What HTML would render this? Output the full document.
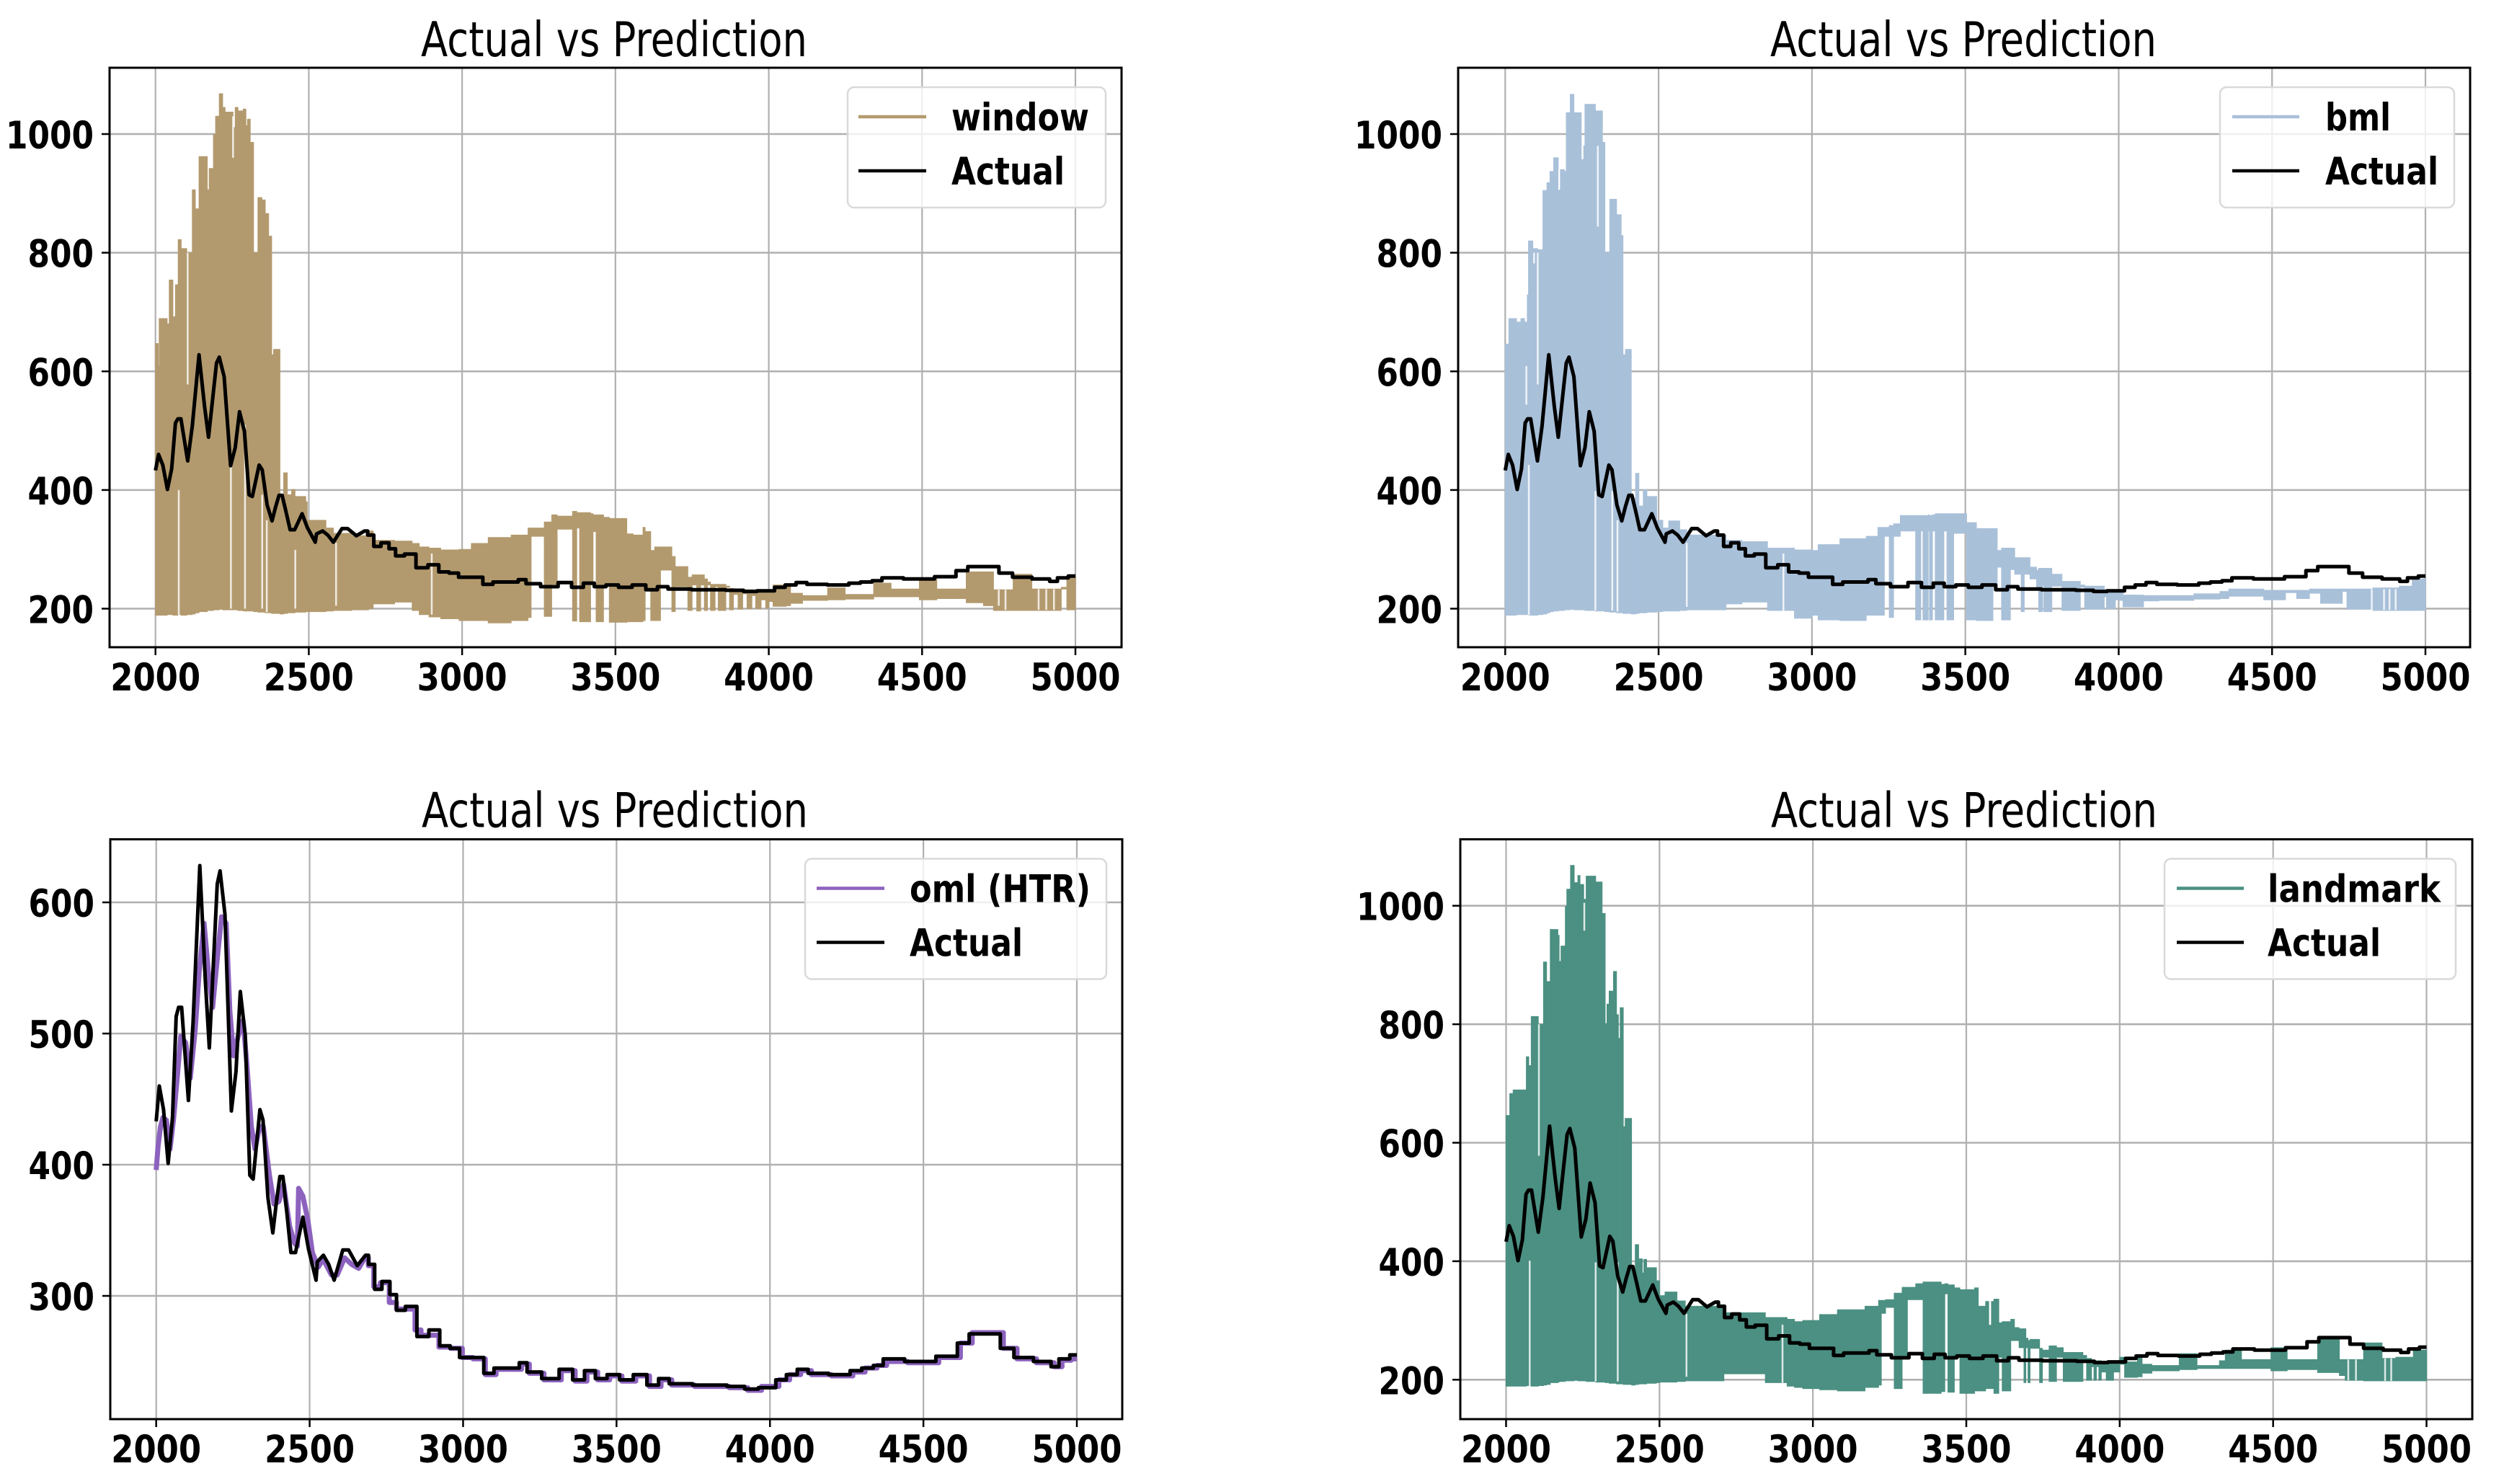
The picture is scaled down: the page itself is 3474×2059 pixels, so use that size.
<!DOCTYPE html>
<html lang="en">
<head>
<meta charset="utf-8">
<title>Actual vs Prediction</title>
<style>
html,body{margin:0;padding:0;background:#fff;width:3474px;height:2059px;overflow:hidden}
svg{display:block;font-family:"DejaVu Sans","Liberation Sans",sans-serif}
</style>
</head>
<body>
<svg id="figure" xmlns="http://www.w3.org/2000/svg" width="3474" height="2059" viewBox="0 0 3474 2059"></svg>
<script>
const xTicks = [2000, 2500, 3000, 3500, 4000, 4500, 5000];
const yTicksWide = [200, 400, 600, 800, 1000];
const yTicksNarrow = [300, 400, 500, 600];

const actualX = [2000,2010,2024,2039,2053,2065,2073,2083,2105,2120,2142,2160,2173,2199,2208,2224,2245,2260,2274,2290,2305,2316,2338,2348,2364,2380,2392,2403,2413,2425,2439,2454,2478,2496,2521,2525,2545,2562,2580,2608,2627,2655,2682,2702,2722,2749,2774,2792,2832,2867,2910,2938,2977,3000,3051,3084,3117,3173,3193,3224,3288,3338,3376,3415,3447,3491,3529,3580,3618,3656,3687,3809,3911,3924,4000,4038,4069,4109,4140,4242,4280,4318,4356,4382,4496,4585,4636,4662,4725,4776,4814,4903,4929,4954,5000];
const actualValues = [433,460,442,401,436,513,520,520,449,508,628,541,489,614,624,591,441,471,532,499,392,389,442,434,375,348,372,391,391,365,333,333,360,336,312,326,331,324,312,335,335,323,331,324,305,311,301,289,292,269,274,262,260,253,253,241,245,245,249,242,237,244,236,243,237,240,236,240,232,237,233,232,231,229,230,236,240,244,241,240,243,245,247,252,250,254,264,271,271,260,253,250,246,252,255];

const omlX = [2000,2006,2014,2022,2033,2045,2057,2069,2080,2096,2111,2127,2140,2156,2170,2184,2201,2213,2228,2240,2252,2267,2283,2295,2310,2322,2337,2349,2369,2384,2400,2415,2435,2451,2460,2464,2478,2494,2509,2528,2544,2571,2590,2614,2637,2660,2680,2703,2715,2746,2773,2793,2832,2855,2871,2910,2933,2985,3010,3055,3090,3125,3180,3200,3232,3295,3345,3385,3422,3455,3500,3535,3590,3625,3665,3695,3815,3920,3935,4010,4048,4080,4120,4150,4250,4290,4330,4368,4392,4505,4595,4646,4672,4735,4786,4824,4913,4939,4964,5000];
const omlValues = [396,414,429,436,434,412,436,468,498,493,466,503,547,584,547,520,562,589,584,517,483,498,510,478,429,412,429,429,392,370,372,385,353,340,338,382,376,358,333,322,328,316,316,329,324,321,329,323,307,310,295,290,290,274,270,270,261,260,253,252,240,244,244,248,241,236,243,235,242,236,239,235,239,231,236,232,231,230,228,231,236,240,243,240,239,242,245,247,250,249,253,264,272,272,260,252,249,246,251,252];

const windowStart = [
2000,2009,2012,2038,2045,2057,2065,2074,2084,2102,
2120,2130,2142,2169,2175,2189,2196,2208,2219,2227,
2253,2260,2269,2286,2295,2300,2309,2320,2334,2347,
2358,2369,2379,2385,2406,2418,2430,2444,2455,2490,
2495,2556,2580,2640,2695,2710,2780,2837,2860,2892,
2930,2990,3030,3085,3160,3215,3225,3268,3292,3310,
3360,3374,3383,3419,3427,3437,3461,3480,3537,3558,
3590,3597,3615,3628,3647,3684,3695,3736,3750,3765,
3778,3790,3800,3810,3825,3835,3860,3872,3885,3900,
3915,3929,3945,3957,3975,3990,4000,4014,4057,4071,
4110,4192,4249,4342,4399,4491,4548,4644,4700,4733,
4797,4858,4954,4972];
const windowHigh = [
647,609,689,680,754,692,746,822,807,800,
906,874,962,906,942,999,1030,1068,1045,1037,
1011,1045,1039,1042,1014,1025,986,800,893,889,
866,828,628,637,386,429,392,401,389,380,
349,336,327,323,331,315,314,310,304,302,
299,300,310,320,324,336,336,346,358,356,
364,362,362,360,358,358,354,352,326,324,
337,330,298,304,304,288,271,253,257,257,
257,250,245,241,241,241,238,234,232,233,
232,232,232,230,230,230,232,240,238,226,
222,235,224,243,233,250,233,262,262,232,
258,233,236,255];
const windowLow = [
189,189,189,190,190,189,189,190,189,190,
191,193,195,197,197,198,198,199,198,198,
198,198,197,196,196,196,196,195,194,194,
193,193,192,192,191,192,193,193,194,195,
195,196,197,198,200,208,211,197,190,186,
183,180,180,176,180,185,322,187,241,334,
179,336,178,240,330,178,240,177,178,178,
180,233,180,180,265,195,237,197,240,196,
240,197,240,197,237,197,236,198,224,199,
225,200,222,200,215,201,212,204,205,209,
214,215,216,220,220,215,217,210,205,197,
197,197,233,198];
const windowSlitX = [2076,2105,2246,2253,2292,2348,2363,2456,2589,2901,4750,4772,4880,4905,4930];
const windowSlitHigh = [400,800,441,1030,510,392,349,299,311,293,232,232,233,233,233];
const windowSlitLow = [189,578,200,960,200,200,194,200,205,190,205,198,198,198,198];

const bmlStart = [
2000,2012,2037,2051,2063,2072,2076,2090,2106,2123,
2136,2146,2158,2173,2179,2193,2199,2212,2224,2248,
2256,2260,2294,2317,2325,2341,2363,2378,2384,2392,
2411,2425,2436,2450,2462,2494,2514,2533,2569,2592,
2720,2772,2855,2943,3000,3020,3091,3177,3215,3236,
3252,3266,3288,3338,3355,3362,3379,3383,3393,3402,
3430,3440,3462,3504,3536,3590,3604,3618,3647,3661,
3682,3692,3711,3732,3739,3752,3756,3782,3815,3875,
3889,3953,3960,3989,4000,4014,4081,4131,4245,4330,
4359,4473,4544,4580,4622,4658,4729,4744,4829,4915,4957];
const bmlHigh = [
646,689,683,689,683,729,820,807,805,905,
918,937,960,906,940,937,1036,1067,1036,957,
980,1050,1039,986,801,890,864,829,628,637,
386,428,373,401,389,349,336,348,333,324,
315,313,302,299,298,308,318,322,337,337,
340,343,357,357,357,357,358,357,358,360,
360,360,360,345,335,335,298,302,302,286,
286,286,270,265,268,268,268,258,246,240,
238,232,230,230,232,223,222,222,225,229,
233,231,231,231,233,233,233,233,235,238,250];
const bmlLow = [
189,189,190,190,190,190,189,189,190,191,
193,195,196,197,197,198,198,199,198,198,
198,197,196,196,195,194,193,193,192,192,
191,192,193,193,194,195,196,196,197,198,
208,211,197,184,189,181,180,189,189,322,
185,322,331,181,331,181,331,181,331,181,
331,181,327,181,180,237,270,181,266,258,
195,258,250,235,195,240,195,238,197,236,
199,220,200,215,214,203,213,214,216,217,
221,215,227,217,226,209,229,199,197,197,197];
const bmlSlitX = [2069,2077,2094,2106,2176,2294,2302,2349,2366,2592,2907,4825,4865,4883,4903];
const bmlSlitHigh = [609,442,800,800,940,398,980,398,349,311,293,233,233,233,233];
const bmlSlitLow = [544,189,782,578,906,197,844,197,195,203,190,198,198,198,198];

const landmarkStart = [
2000,2012,2023,2066,2074,2082,2105,2122,2132,2144,
2169,2173,2179,2193,2198,2210,2222,2234,2241,2253,
2261,2292,2313,2323,2329,2336,2350,2360,2366,2372,
2382,2388,2409,2421,2432,2444,2449,2458,2490,2500,
2518,2557,2584,2710,2845,2916,2940,2967,3022,3080,
3170,3214,3223,3237,3265,3291,3308,3335,3359,3418,
3430,3440,3461,3479,3527,3539,3563,3573,3582,3590,
3606,3617,3645,3657,3672,3688,3694,3701,3708,3739,
3748,3770,3794,3816,3880,3892,3908,3916,3924,3932,
3940,3956,3980,4000,4016,4058,4073,4105,4194,4252,
4325,4344,4397,4493,4546,4645,4716,4735,4795,4855,
4871,4900,4957];
const landmarkHigh = [
646,683,689,745,730,813,800,905,872,960,
950,906,932,999,1028,1068,1039,1051,1036,1011,
1050,1040,987,801,834,856,889,816,776,828,
627,641,386,428,404,380,403,389,367,342,
348,333,324,313,305,302,298,300,310,318,
324,334,334,335,346,356,356,362,365,361,
362,360,355,352,355,324,332,292,332,336,
296,298,302,288,286,286,270,266,268,253,
250,257,254,246,241,236,232,232,232,232,
228,228,228,238,230,238,226,224,244,224,
232,250,234,254,234,268,234,234,262,236,
236,238,250];
const landmarkLow = [
189,189,189,190,190,189,190,191,192,195,
196,197,197,198,198,198,199,198,198,198,
197,196,196,195,195,194,194,193,193,193,
192,192,191,192,193,193,193,194,195,196,
196,197,198,210,195,189,187,185,183,181,
187,191,312,322,185,237,335,335,177,180,
345,179,238,177,181,181,185,185,185,177,
238,181,266,266,254,195,254,195,253,195,
238,197,238,197,230,199,222,199,222,199,
213,199,213,226,204,205,211,215,217,219,
219,219,219,215,217,212,207,199,198,198,
198,198,198];
const landmarkSlitX = [2077,2107,2255,2292,2364,2588,2901,4745,4770,4865,4885];
const landmarkSlitHigh = [401,800,1005,398,398,311,293,234,234,236,236];
const landmarkSlitLow = [189,578,958,197,197,205,189,199,199,198,198];

const xMax = 5000;
const stairFrom = 2700;
const NS = 'http://www.w3.org/2000/svg';
const root = document.getElementById('figure');

function make(tag, parent, attrs, text) {
  const node = document.createElementNS(NS, tag);
  for (const k in attrs) node.setAttribute(k, attrs[k]);
  if (text !== undefined) node.textContent = text;
  parent.appendChild(node);
  return node;
}

function linearScale(d0, d1, p0, p1) {
  return function (v) { return p0 + (v - d0) * (p1 - p0) / (d1 - d0); };
}

function drawBands(g, sx, sy, p) {
  let d = '';
  for (let i = 0; i < p.start.length; i++) {
    const next = i + 1 < p.start.length ? p.start[i + 1] : xMax;
    const a = sx(p.start[i]).toFixed(1), b = sx(next).toFixed(1);
    const t = sy(p.high[i]).toFixed(1), u = sy(p.low[i]).toFixed(1);
    d += 'M' + a + ' ' + t + 'H' + b + 'V' + u + 'H' + a + 'Z';
  }
  const band = make('path', g, { d: d, fill: p.color, stroke: p.color, 'stroke-width': 1 });
  
  
  for (let i = 0; i < p.slitX.length; i++) {
    const slit = make('line', g, {
      x1: sx(p.slitX[i]), x2: sx(p.slitX[i]), y1: sy(p.slitHigh[i]), y2: sy(p.slitLow[i]),
      stroke: '#fff', 'stroke-opacity': 0.8, 'stroke-width': 2.5
    });
    
    
  }
}

function drawLine(g, sx, sy, xs, ys, color, width, name) {
  const pts = [];
  xs.forEach(function (x, i) {
    if (i > 0 && x > stairFrom) {
      const mid = sx((xs[i - 1] + x) / 2).toFixed(1);
      pts.push(mid + ',' + sy(ys[i - 1]).toFixed(1));
      pts.push(mid + ',' + sy(ys[i]).toFixed(1));
    }
    pts.push(sx(x).toFixed(1) + ',' + sy(ys[i]).toFixed(1));
  });
  const line = make('polyline', g, { points: pts.join(' '), fill: 'none', stroke: color, 'stroke-width': width, 'stroke-linejoin': 'round' });
  
  
}

function drawPanel(p) {
  const g = make('g', root, {});
  
  
  const sx = linearScale(2000, 5000, p.x0, p.x1);
  const sy = linearScale(p.v0, p.v1, p.y0, p.y1);

  xTicks.forEach(function (t) {
    const grid = make('line', g, { x1: sx(t), x2: sx(t), y1: p.top, y2: p.bottom, stroke: '#b0b0b0', 'stroke-width': 2.2 });
    
    
  });
  p.yTicks.forEach(function (t) {
    const grid = make('line', g, { x1: p.left, x2: p.right, y1: sy(t), y2: sy(t), stroke: '#b0b0b0', 'stroke-width': 2.6 });
    
    
  });

  if (p.start) drawBands(g, sx, sy, p);
  if (p.lineX) drawLine(g, sx, sy, p.lineX, p.lineY, p.color, 7, p.label + '-prediction-series');
  drawLine(g, sx, sy, actualX, actualValues, '#000', 5, 'actual-series');

  const frame = make('rect', g, { x: p.left, y: p.top, width: p.right - p.left, height: p.bottom - p.top, fill: 'none', stroke: '#000', 'stroke-width': 3 });
  
  

  xTicks.forEach(function (t) {
    const mark = make('line', g, { x1: sx(t), x2: sx(t), y1: p.bottom, y2: p.bottom + 11, stroke: '#000', 'stroke-width': 2.5 });
    
    
    const label = make('text', g, { x: sx(t), y: p.bottom + 60, 'text-anchor': 'middle', 'font-size': 53, 'font-weight': 700, textLength: 125, lengthAdjust: 'spacingAndGlyphs' }, String(t));
    
    
  });
  p.yTicks.forEach(function (t) {
    const mark = make('line', g, { x1: p.left - 11, x2: p.left, y1: sy(t), y2: sy(t), stroke: '#000', 'stroke-width': 2.5 });
    
    
    const s = String(t);
    const label = make('text', g, { x: p.left - 22, y: sy(t) + 20, 'text-anchor': 'end', 'font-size': 53, 'font-weight': 700, textLength: s.length * 30.5, lengthAdjust: 'spacingAndGlyphs' }, s);
    
    
  });

  const title = make('text', g, { x: p.titleX, y: p.titleY, 'text-anchor': 'middle', 'font-size': 67, textLength: 536, lengthAdjust: 'spacingAndGlyphs' }, 'Actual vs Prediction');
  
  

  const L = p.legend;
  const legend = make('g', g, {});
  
  
  const box = make('rect', legend, { x: L.x, y: L.y, width: L.w, height: 167, rx: 9, fill: '#fff', 'fill-opacity': 0.8, stroke: '#d9d9d9', 'stroke-width': 2.5 });
  
  
  const key1 = make('line', legend, { x1: L.lx0, x2: L.lx1, y1: L.y + 41, y2: L.y + 41, stroke: p.color, 'stroke-width': 4.5 });
  
  
  const key2 = make('line', legend, { x1: L.lx0, x2: L.lx1, y1: L.y + 116, y2: L.y + 116, stroke: '#000', 'stroke-width': 4.5 });
  
  
  const text1 = make('text', legend, { x: L.tx, y: L.y + 60, 'font-size': 53, 'font-weight': 700, textLength: L.w1, lengthAdjust: 'spacingAndGlyphs' }, p.name);
  
  
  const text2 = make('text', legend, { x: L.tx, y: L.y + 135, 'font-size': 53, 'font-weight': 700, textLength: 157, lengthAdjust: 'spacingAndGlyphs' }, 'Actual');
  
  
}

drawPanel({
  label: 'window', name: 'window', color: '#b39a6e',
  start: windowStart, high: windowHigh, low: windowLow,
  slitX: windowSlitX, slitHigh: windowSlitHigh, slitLow: windowSlitLow,
  left: 152, right: 1556, top: 94, bottom: 898,
  x0: 215.7, x1: 1492, v0: 200, v1: 1000, y0: 844.5, y1: 186,
  yTicks: yTicksWide, titleX: 852, titleY: 78,
  legend: { x: 1176, y: 121, w: 358, lx0: 1191, lx1: 1285, tx: 1320, w1: 191 }
});
drawPanel({
  label: 'bml', name: 'bml', color: '#a9c0d9',
  start: bmlStart, high: bmlHigh, low: bmlLow,
  slitX: bmlSlitX, slitHigh: bmlSlitHigh, slitLow: bmlSlitLow,
  left: 2023, right: 3427, top: 94, bottom: 898,
  x0: 2088.3, x1: 3365, v0: 200, v1: 1000, y0: 844.5, y1: 186,
  yTicks: yTicksWide, titleX: 2724, titleY: 78,
  legend: { x: 3080, y: 121, w: 325, lx0: 3097, lx1: 3190, tx: 3226, w1: 91 }
});
drawPanel({
  label: 'oml', name: 'oml (HTR)', color: '#8c62be',
  lineX: omlX, lineY: omlValues,
  left: 153, right: 1557, top: 1164.5, bottom: 1969,
  x0: 216.7, x1: 1494, v0: 300, v1: 600, y0: 1798, y1: 1252,
  yTicks: yTicksNarrow, titleX: 853, titleY: 1147.5,
  legend: { x: 1117, y: 1191.5, w: 418, lx0: 1133, lx1: 1227, tx: 1262, w1: 251 }
});
drawPanel({
  label: 'landmark', name: 'landmark', color: '#4b9082',
  start: landmarkStart, high: landmarkHigh, low: landmarkLow,
  slitX: landmarkSlitX, slitHigh: landmarkSlitHigh, slitLow: landmarkSlitLow,
  left: 2026, right: 3430, top: 1164.5, bottom: 1969,
  x0: 2089.5, x1: 3366.5, v0: 200, v1: 1000, y0: 1914.3, y1: 1256.7,
  yTicks: yTicksWide, titleX: 2725, titleY: 1147.5,
  legend: { x: 3003, y: 1191.5, w: 404, lx0: 3020, lx1: 3113, tx: 3146, w1: 240 }
});
</script>
</body>
</html>
